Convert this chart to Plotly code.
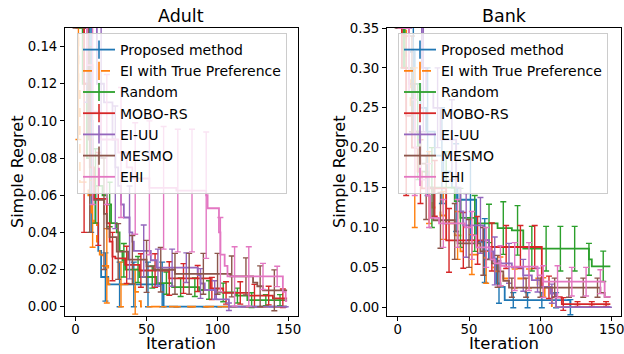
import plotly.graph_objects as go

W, H = 624, 354
names = ["Proposed method", "EI with True Preference", "Random", "MOBO-RS", "EI-UU", "MESMO", "EHI"]
colors = ["#1f77b4", "#ff7f0e", "#2ca02c", "#d62728", "#9467bd", "#8c564b", "#e377c2"]
dashes = ["solid", "dash", "solid", "solid", "solid", "solid", "solid"]
err_offsets = [1, 2, 4, 6, 8, 0, 2]

# ---------------- Adult ----------------
adult_blue_x = [0, 4, 8, 10, 12, 14, 16, 18, 23, 62]
adult_blue_y = [0.30, 0.20, 0.15, 0.10, 0.065, 0.045, 0.03, 0.016, 0.012, 0.0]
adult_blue_e = [0.10, 0.06, 0.013, 0.012, 0.012, 0.012, 0.012, 0, 0, 0, 0, 0, 0, 0, 0]

adult_orange_x = [0, 2, 3, 9, 11, 13, 15, 17, 19, 23, 42, 44, 46]
adult_orange_y = [0.25, 0.12, 0.067, 0.06, 0.05, 0.045, 0.035, 0.028, 0.022, 0.012, 0.008, 0.003, 0.0]
adult_orange_e = [0.03, 0.018, 0.02, 0.012, 0.012, 0, 0, 0, 0, 0, 0, 0, 0, 0, 0]

adult_green_x = [0, 5, 8, 12, 19, 22, 25, 29, 31, 33, 35, 45, 57, 68, 87, 99, 113, 121]
adult_green_y = [0.2, 0.12, 0.08, 0.065, 0.06, 0.055, 0.045, 0.04, 0.03, 0.025, 0.02, 0.016, 0.0127, 0.0105,
                 0.009, 0.0077, 0.006, 0.0035]
adult_green_e = [0.05, 0.02, 0.012, 0.009, 0.007, 0.006, 0.006, 0.005, 0.005, 0.005, 0.005, 0.004, 0.004,
                 0.003, 0.003]

adult_red_x = [0, 6, 10, 13, 22, 24, 26, 28, 35, 45, 66, 95, 104, 122, 139]
adult_red_y = [0.25, 0.12, 0.075, 0.058, 0.045, 0.035, 0.027, 0.026, 0.0225, 0.0195, 0.0152, 0.0098, 0.0074,
               0.006, 0.0045]
adult_red_e = [0.08, 0.025, 0.013, 0.01, 0.009, 0.009, 0.009, 0.008, 0.007, 0.006, 0.006, 0.006, 0.006,
               0.005, 0.005]

adult_purple_x = [0, 8, 15, 20, 26, 28, 30, 32, 34, 38, 40, 41, 53, 57, 86, 88, 91, 99, 108]
adult_purple_y = [0.3, 0.16, 0.12, 0.11, 0.09, 0.075, 0.065, 0.055, 0.048, 0.04, 0.035, 0.03, 0.025, 0.021,
                  0.017, 0.0125, 0.009, 0.004, 0.0]
adult_purple_e = [0.05, 0.04, 0.033, 0.025, 0.014, 0.01, 0.01, 0.008, 0.008, 0.005, 0.002, 0, 0, 0, 0]

adult_brown_x = [0, 5, 9, 12, 20, 22, 24, 29, 37, 50, 55, 70, 109, 125, 128, 132]
adult_brown_y = [0.25, 0.15, 0.09, 0.0575, 0.05, 0.042, 0.0375, 0.0297, 0.0253, 0.0217, 0.0199, 0.0177,
                 0.0163, 0.013, 0.011, 0.0088]
adult_brown_e = [0.1, 0.05, 0.03, 0.015, 0.013, 0.014, 0.012, 0.011, 0.011, 0.011, 0.011, 0.011, 0.01,
                 0.011, 0.011]

adult_pink_x = [0, 4, 8, 12, 18, 30, 36, 40, 52, 71, 92, 93, 101, 102, 105, 107, 146, 148]
adult_pink_y = [0.3, 0.2, 0.13, 0.105, 0.09, 0.083, 0.075, 0.069, 0.064, 0.0625, 0.06, 0.053, 0.04, 0.028,
                0.022, 0.0163, 0.008, 0.003]
adult_pink_e = [0.1, 0.05, 0.035, 0.035, 0.03, 0.036, 0.033, 0.033, 0.033, 0.034, 0.02, 0.016, 0.016,
                0.007, 0.0055]

# ---------------- Bank ----------------
bank_blue_x = [0, 4, 8, 12, 16, 20, 26, 32, 38, 42, 55, 60, 64, 69, 72, 75, 121]
bank_blue_y = [0.45, 0.38, 0.32, 0.28, 0.25, 0.22, 0.19, 0.17, 0.15, 0.1347, 0.082, 0.071, 0.061, 0.03,
               0.0254, 0.0088, 0.0]
bank_blue_e = [0.1, 0.1, 0.08, 0.06, 0.055, 0.05, 0.04, 0.025, 0.0095, 0.0095, 0.0095, 0.0095, 0.0095, 0, 0]

bank_orange_x = [0, 3, 6, 9, 12, 16, 20, 24, 30, 36, 40, 44, 50, 56, 62, 68, 74, 98, 103, 108]
bank_orange_y = [0.45, 0.38, 0.3, 0.25, 0.2, 0.17, 0.15, 0.125, 0.115, 0.105, 0.09, 0.07, 0.066, 0.062,
                 0.05, 0.045, 0.036, 0.025, 0.012, 0.0]
bank_orange_e = [0.1, 0.1, 0.045, 0.03, 0.03, 0.025, 0.02, 0.018, 0.012, 0.012, 0.012, 0, 0, 0, 0]

bank_green_x = [0, 5, 10, 15, 22, 40, 44, 54, 70, 80, 88, 134, 136]
bank_green_y = [0.4, 0.3, 0.22, 0.17, 0.15, 0.133, 0.112, 0.105, 0.0992, 0.0963, 0.0734, 0.06, 0.0513]
bank_green_e = [0.1, 0.06, 0.05, 0.045, 0.037, 0.035, 0.024, 0.033, 0.031, 0.028, 0.028, 0.028, 0.028,
                0.02, 0.019]

bank_red_x = [0, 3, 6, 10, 14, 17, 34, 64, 101, 108, 115]
bank_red_y = [0.4, 0.3, 0.24, 0.2, 0.17, 0.149, 0.0838, 0.0755, 0.025, 0.0125, 0.004]
bank_red_e = [0.1, 0.04, 0.035, 0.04, 0.035, 0.03, 0.03, 0.027, 0.027, 0.027, 0.014, 0.008, 0.003, 0.003,
              0.003]

bank_purple_x = [0, 10, 17, 20, 25, 30, 41, 44, 46, 60, 64, 67, 72, 80, 88, 94, 100, 107, 111]
bank_purple_y = [0.45, 0.38, 0.3, 0.27, 0.25, 0.21, 0.15, 0.12, 0.1026, 0.084, 0.07, 0.058, 0.055, 0.05,
                 0.04, 0.034, 0.0254, 0.017, 0.0]
bank_purple_e = [0.1, 0.08, 0.05, 0.05, 0.04, 0.035, 0.03, 0.025, 0.02, 0.015, 0.012, 0, 0, 0, 0]

bank_brown_x = [0, 4, 8, 12, 16, 20, 25, 40, 42, 58, 62, 66, 70, 74, 78, 142, 145]
bank_brown_y = [0.45, 0.35, 0.28, 0.22, 0.18, 0.15, 0.109, 0.095, 0.08, 0.07, 0.06, 0.055, 0.045, 0.033,
                0.0245, 0.018, 0.013]
bank_brown_e = [0.1, 0.06, 0.04, 0.035, 0.035, 0.03, 0.03, 0.02, 0.012, 0.012, 0.012, 0.012, 0.012, 0.012,
                0.012]

bank_pink_x = [0, 4, 8, 12, 16, 20, 23, 29, 47, 52, 55, 65, 68, 72, 75, 98, 102, 145]
bank_pink_y = [0.45, 0.35, 0.27, 0.2, 0.16, 0.14, 0.112, 0.105, 0.1, 0.09, 0.075, 0.06, 0.055, 0.052, 0.051,
               0.04, 0.032, 0.013]
bank_pink_e = [0.1, 0.06, 0.04, 0.03, 0.03, 0.03, 0.025, 0.025, 0.03, 0.03, 0.02, 0.02, 0.018, 0.018, 0.015]

adult = [(adult_blue_x, adult_blue_y, adult_blue_e), (adult_orange_x, adult_orange_y, adult_orange_e),
         (adult_green_x, adult_green_y, adult_green_e), (adult_red_x, adult_red_y, adult_red_e),
         (adult_purple_x, adult_purple_y, adult_purple_e), (adult_brown_x, adult_brown_y, adult_brown_e),
         (adult_pink_x, adult_pink_y, adult_pink_e)]
bank = [(bank_blue_x, bank_blue_y, bank_blue_e), (bank_orange_x, bank_orange_y, bank_orange_e),
        (bank_green_x, bank_green_y, bank_green_e), (bank_red_x, bank_red_y, bank_red_e),
        (bank_purple_x, bank_purple_y, bank_purple_e), (bank_brown_x, bank_brown_y, bank_brown_e),
        (bank_pink_x, bank_pink_y, bank_pink_e)]

LAST = 149


def step_value(xs, ys, t):
    v = ys[0]
    for xx, yy in zip(xs, ys):
        if xx <= t:
            v = yy
    return v


fig = go.Figure()
for panel, (series, xa, ya, lg) in enumerate([(adult, "x", "y", "legend"), (bank, "x2", "y2", "legend2")]):
    for i, (xs, ys, es) in enumerate(series):
        c = colors[i]
        lx = list(xs) + [LAST]
        ly = list(ys) + [ys[-1]]
        fig.add_trace(go.Scatter(x=lx, y=ly, mode="lines", line=dict(color=c, width=1.8, dash=dashes[i], shape="hv"),
                                 xaxis=xa, yaxis=ya, showlegend=False, hoverinfo="skip"))
        ex = list(range(err_offsets[i], 150, 10))
        ey = [step_value(xs, ys, t) for t in ex]
        fig.add_trace(go.Scatter(x=ex, y=ey, mode="markers", marker=dict(size=1, color=c, opacity=0),
                                 error_y=dict(type="data", array=es[:len(ex)], color=c, thickness=1.4, width=3),
                                 xaxis=xa, yaxis=ya, showlegend=False, hoverinfo="skip"))
    for i in range(7):
        fig.add_trace(go.Scatter(x=[None], y=[None], mode="lines+markers", name=names[i],
                                 line=dict(color=colors[i], width=1.8, dash=dashes[i]),
                                 marker=dict(symbol="line-ns-open", size=13, color=colors[i],
                                             line=dict(color=colors[i], width=1.6)),
                                 xaxis=xa, yaxis=ya, legend=lg))

FONT = "DejaVu Sans"
axis_common = dict(showline=True, linecolor="black", linewidth=1, mirror=True, ticks="outside", ticklen=4,
                   tickcolor="black", tickfont=dict(family=FONT, size=13.3, color="black"), showgrid=False,
                   zeroline=False, automargin=False, ticklabeloverflow="allow")
ydom = [1 - 316 / H, 1 - 28 / H]
legend_common = dict(yanchor="top", xanchor="left", y=1 - 33 / H, bgcolor="rgba(255,255,255,0.8)",
                     bordercolor="#cccccc", borderwidth=1, font=dict(family=FONT, size=14, color="black"),
                     tracegroupgap=0, itemwidth=32)
fig.update_layout(
    width=W, height=H, margin=dict(l=0, r=0, t=0, b=0, autoexpand=False), paper_bgcolor="white",
    plot_bgcolor="white",
    font=dict(family=FONT, color="black"),
    xaxis=dict(domain=[65 / W, 297.7 / W], range=[-7.45, 156.45], tickvals=[0, 50, 100, 150], anchor="y",
               ticklabelstandoff=-3, **axis_common),
    yaxis=dict(domain=ydom, range=[-0.005, 0.15], dtick=0.02, tickformat=".2f", anchor="x", **axis_common),
    xaxis2=dict(domain=[387 / W, 621 / W], range=[-7.45, 156.45], tickvals=[0, 50, 100, 150], anchor="y2",
                ticklabelstandoff=-3, **axis_common),
    yaxis2=dict(domain=ydom, range=[-0.011, 0.35], dtick=0.05, tickformat=".2f", anchor="x2", **axis_common),
    legend=dict(x=77 / W, **legend_common),
    legend2=dict(x=398 / W, **legend_common),
)

ann = []
for cx, title in [((65 + 297.7) / 2, "Adult"), ((387 + 621) / 2, "Bank")]:
    ann.append(dict(text=title, x=cx / W, y=1 - 16.5 / H, xref="paper", yref="paper", showarrow=False,
                    xanchor="center", yanchor="middle", font=dict(family=FONT, size=17.5, color="black")))
    ann.append(dict(text="Iteration", x=cx / W, y=0, xref="paper", yref="paper", showarrow=False, borderpad=0,
                    xanchor="center", yanchor="bottom", font=dict(family=FONT, size=16.5, color="black")))
for lx in [17, 339]:
    ann.append(dict(text="Simple Regret", x=lx / W, y=1 - 172 / H, xref="paper", yref="paper", showarrow=False,
                    textangle=-90, xanchor="center", yanchor="middle",
                    font=dict(family=FONT, size=16, color="black")))
fig.update_layout(annotations=ann)

fig.write_html("out.html", config={"displayModeBar": False},
               post_script="document.body.style.margin='0px';document.body.style.overflow='hidden';")
